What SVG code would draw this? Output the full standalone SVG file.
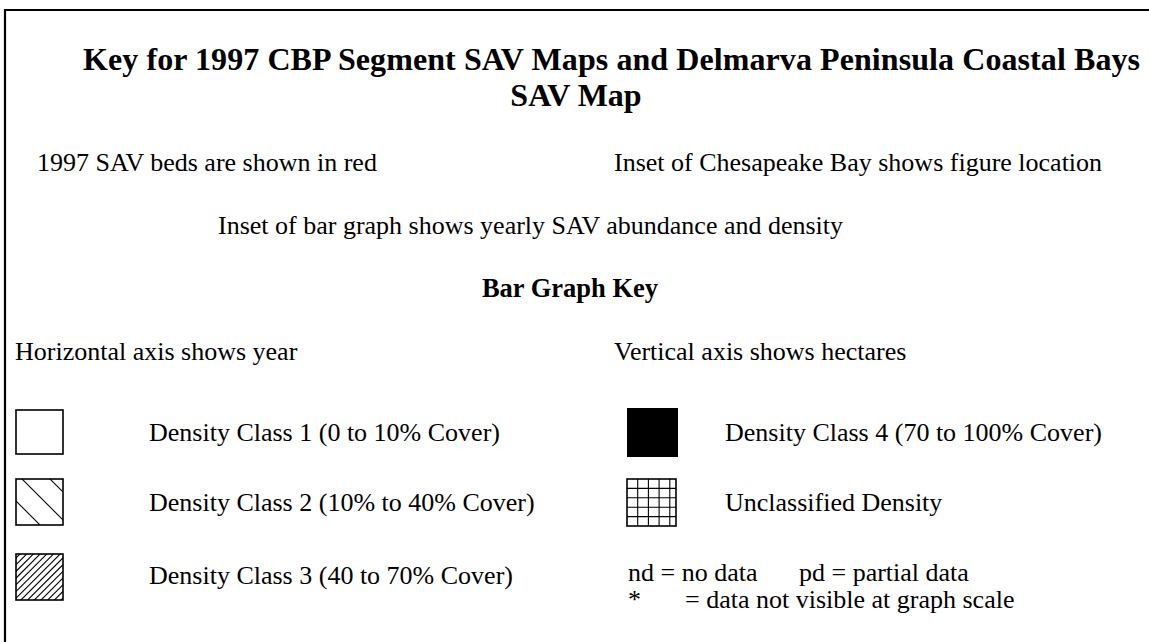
<svg xmlns="http://www.w3.org/2000/svg" width="1149" height="642" viewBox="0 0 1149 642">
<style>
text{font-family:"Liberation Serif","Times New Roman",serif;fill:#000}
.t{font-size:32px;font-weight:bold}
.h{font-size:26.5px;font-weight:bold}
.b{font-size:26px}
.sw{fill:none;stroke:#000;stroke-width:1.6}
.hl{stroke:#000;stroke-width:1.1}
</style>
<defs>
<clipPath id="c2"><rect x="16" y="479" width="47" height="46"/></clipPath>
<clipPath id="c3"><rect x="16" y="554" width="47" height="46"/></clipPath>
</defs>
<rect width="1149" height="642" fill="#fff"/>
<path d="M5 660 V10 H1160" fill="none" stroke="#000" stroke-width="2.2"/>
<g id="title">
<text class="t" x="83" y="70" textLength="1057" lengthAdjust="spacing">Key for 1997 CBP Segment SAV Maps and Delmarva Peninsula Coastal Bays</text>
<text class="t" x="576" y="106" text-anchor="middle">SAV Map</text>
</g>
<g id="notes">
<text class="b" x="37" y="171">1997 SAV beds are shown in red</text>
<text class="b" x="614" y="171">Inset of Chesapeake Bay shows figure location</text>
<text class="b" x="218" y="234">Inset of bar graph shows yearly SAV abundance and density</text>
<text class="h" x="570" y="297" text-anchor="middle">Bar Graph Key</text>
<text class="b" x="15" y="360">Horizontal axis shows year</text>
<text class="b" x="614" y="360">Vertical axis shows hectares</text>
</g>
<g id="class1">
<rect class="sw" x="16" y="410" width="47" height="44"/>
<text class="b" x="149" y="441">Density Class 1 (0 to 10% Cover)</text>
</g>
<g id="class2">
<g clip-path="url(#c2)">
<line class="hl" x1="40" y1="469" x2="80" y2="509"/>
<line class="hl" x1="12" y1="469" x2="72" y2="529"/>
<line class="hl" x1="-10" y1="475" x2="50" y2="535"/>
</g>
<rect class="sw" x="16" y="479" width="47" height="46"/>
<text class="b" x="149" y="511">Density Class 2 (10% to 40% Cover)</text>
</g>
<g id="class3">
<g clip-path="url(#c3)">
<path class="hl" d="M0 574 L70 504 M0 580.7 L70 510.7 M0 587.4 L70 517.4 M0 594.1 L70 524.1 M0 600.8 L70 530.8 M0 607.5 L70 537.5 M0 614.2 L70 544.2 M0 620.9 L70 550.9 M0 627.6 L70 557.6 M0 634.3 L70 564.3 M0 641 L70 571 M0 647.7 L70 577.7 M0 654.4 L70 584.4 M0 661.1 L70 591.1 M0 667.8 L70 597.8 M0 674.5 L70 604.5 M0 681.2 L70 611.2"/>
</g>
<rect class="sw" x="16" y="554" width="47" height="46"/>
<text class="b" x="149" y="584">Density Class 3 (40 to 70% Cover)</text>
</g>
<g id="class4">
<rect x="627" y="408" width="51" height="49" fill="#000"/>
<text class="b" x="725" y="441">Density Class 4 (70 to 100% Cover)</text>
</g>
<g id="unclassified">
<path class="hl" d="M637.7 479 V526 M648.4 479 V526 M659.1 479 V526 M669.8 479 V526 M627 488.4 H676 M627 497.8 H676 M627 507.2 H676 M627 516.6 H676"/>
<rect class="sw" x="627" y="479" width="49" height="47"/>
<text class="b" x="725" y="511">Unclassified Density</text>
</g>
<g id="legend-notes">
<text class="b" x="628" y="581">nd = no data</text>
<text class="b" x="799" y="581">pd = partial data</text>
<text class="b" x="628" y="608">*</text>
<text class="b" x="685" y="608">= data not visible at graph scale</text>
</g>
</svg>
